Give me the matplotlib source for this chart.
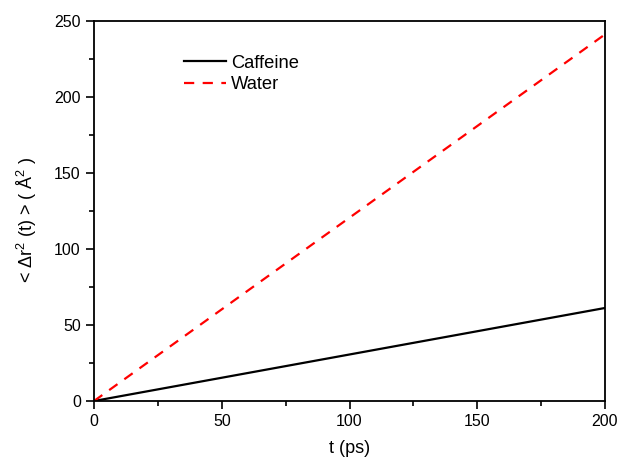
import matplotlib.pyplot as plt
from matplotlib.ticker import MultipleLocator

plt.rcParams['font.family'] = ['Liberation Sans', 'DejaVu Sans']
plt.rcParams['mathtext.default'] = 'regular'

# MSD vs time
t_ps = [0, 50, 100, 150, 200]
msd_caffeine = [0, 15.3, 30.6, 45.9, 61.2]
msd_water = [0, 60.3, 120.6, 180.9, 241.2]

fig = plt.figure(figsize=(6.18, 4.57), dpi=100)
ax = fig.add_axes([94 / 618, 1 - 401 / 457, 511 / 618, 380 / 457])

ax.plot(t_ps, msd_caffeine, color='black', lw=1.6, label='Caffeine')
ax.plot(t_ps, msd_water, color='#ff0000', lw=1.6, ls=(0, (4.6, 3.8)), label='Water')

ax.set_xlim(0, 200)
ax.set_ylim(0, 250)
ax.xaxis.set_major_locator(MultipleLocator(50))
ax.xaxis.set_minor_locator(MultipleLocator(25))
ax.yaxis.set_major_locator(MultipleLocator(50))
ax.yaxis.set_minor_locator(MultipleLocator(25))
ax.tick_params(which='both', direction='out', width=1.2, labelsize=11.5, top=False, right=False)
ax.tick_params(which='major', length=6)
ax.tick_params(which='minor', length=3.5)
for s in ax.spines.values():
    s.set_linewidth(1.3)

ax.set_xlabel('t (ps)', fontsize=13, labelpad=8)
ax.set_ylabel('< $\\Delta$r$^2$ (t) > ( Å$^2$ )', fontsize=13)
ax.yaxis.set_label_coords(-0.108, 0.476)

ax.legend(loc='upper left', bbox_to_anchor=(0.143, 0.955), frameon=False, fontsize=13.2,
          handlelength=2.3, handletextpad=0.3, labelspacing=0.25)

fig.savefig('out.png', dpi=100)
